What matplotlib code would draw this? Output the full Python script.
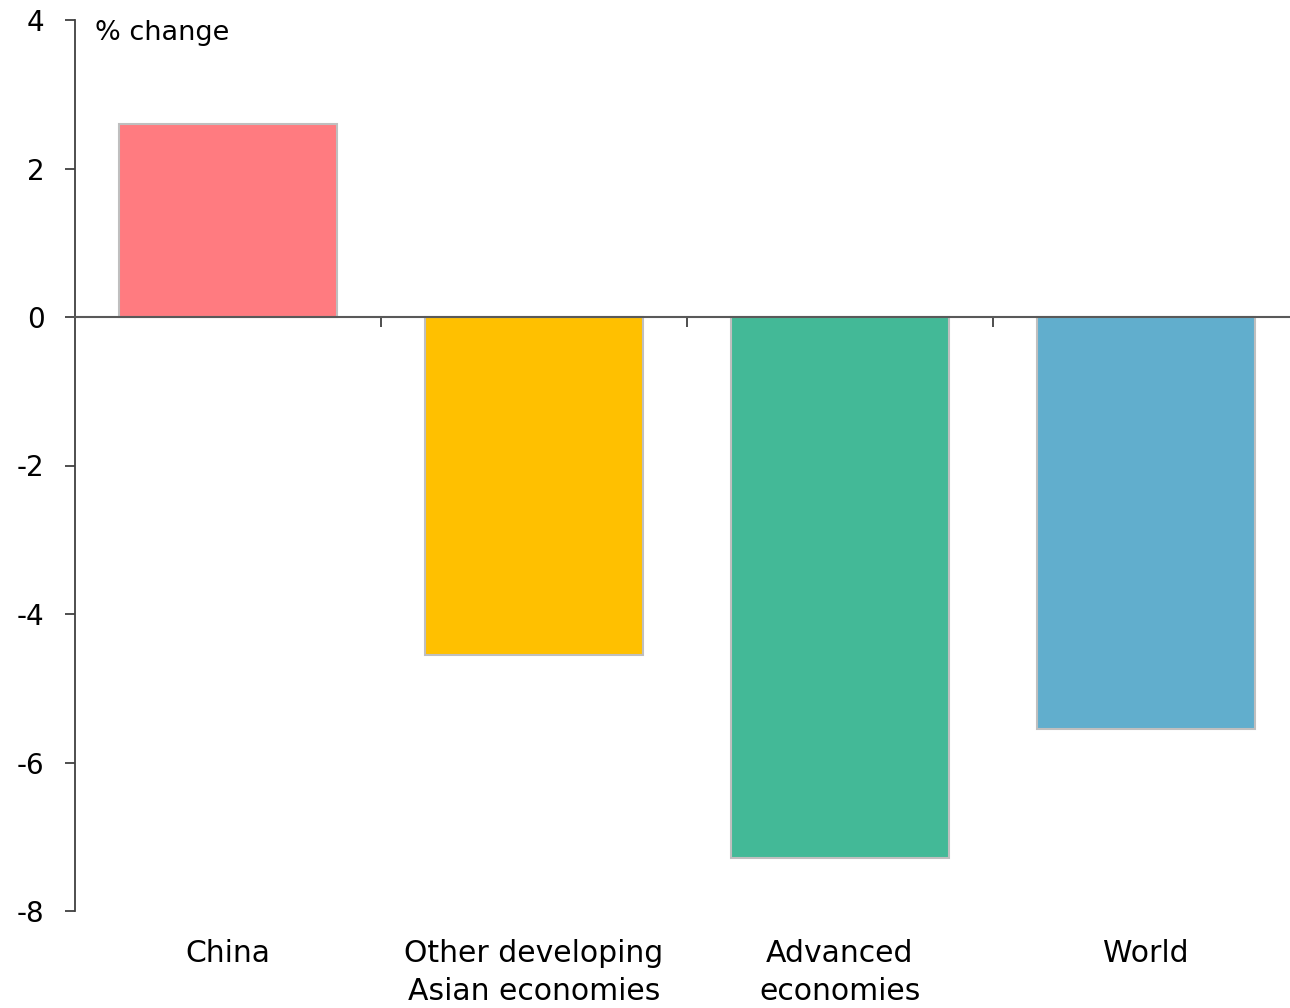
import matplotlib
matplotlib.use("Agg")
import matplotlib.pyplot as plt
import matplotlib.transforms as mtransforms

# data
regions = ["China", "Other developing\nAsian economies", "Advanced\neconomies", "World"]
change = [2.6, -4.55, -7.28, -5.55]
colors = ["#FF7B80", "#FFC000", "#43B997", "#61AECD"]
yticks = [-8, -6, -4, -2, 0, 2, 4]

plt.rcParams['font.family'] = ['DejaVu Sans']

fig = plt.figure(figsize=(12.9, 10.08), dpi=100)
ax = fig.add_axes([75/1290, 1 - 911/1008, 1224/1290, 891/1008])

x = range(len(regions))
ax.bar(x, change, width=0.71, color=colors, edgecolor="#BFBFBF", linewidth=1.5, zorder=2)

ax.set_xlim(-0.5, len(regions) - 0.5)
ax.set_ylim(-8, 4)
ax.set_yticks(yticks)
ax.set_yticklabels([str(v) for v in yticks], fontsize=20)

# x axis sits on the zero line, ticks mark category boundaries
ax.spines["bottom"].set_position(("data", 0))
ax.spines["bottom"].set_color("#595959")
ax.spines["bottom"].set_linewidth(1.5)
ax.spines["bottom"].set_zorder(3)
ax.spines["left"].set_color("#404040")
ax.spines["left"].set_linewidth(1.3)
ax.spines["top"].set_visible(False)
ax.spines["right"].set_visible(False)
ax.set_xticks([i + 0.5 for i in range(len(regions) - 1)])
ax.set_xticklabels([])
ax.tick_params(axis="x", direction="out", length=7, width=1.3, color="#404040")
ax.tick_params(axis="y", direction="out", length=7, width=1.3, color="#404040", pad=15)

# category labels below the plot area
trans = mtransforms.blended_transform_factory(ax.transData, ax.transAxes)
for i, name in enumerate(regions):
    ax.text(i, -0.031, name, transform=trans, ha="center", va="top",
            fontsize=21.5, linespacing=1.4)

ax.text(0.016, 0.985, "% change", transform=ax.transAxes, ha="left", va="center", fontsize=19.5)

fig.savefig("out.png", dpi=100)
